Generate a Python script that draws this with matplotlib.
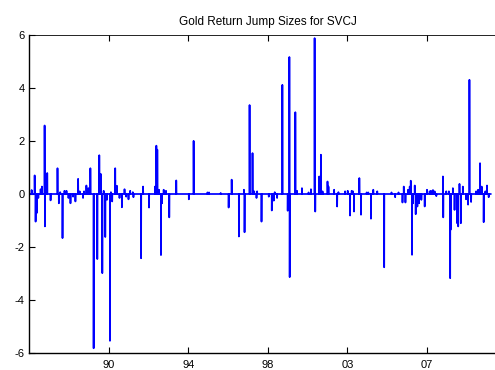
import numpy as np
import matplotlib
matplotlib.use("Agg")
import matplotlib.pyplot as plt

# Daily jump sizes: observation index -> jump size (all other days have no jump)
jump_day = [
    33, 71, 83, 96, 117, 146, 162, 196, 200, 229, 271, 358, 375, 392, 421,
    446, 471, 496, 521, 554, 583, 617, 637, 679, 692, 721, 746, 771, 812,
    858, 883, 900, 921, 938, 958, 979, 1017, 1029,
    1045, 1083, 1104, 1137, 1167, 1200, 1221, 1250, 1271, 1304, 1312, 1408,
    1433, 1508, 1583, 1600, 1612, 1633, 1658, 1671, 1692, 1721, 1762, 1850,
    2008, 2068,
    2242, 2262, 2408, 2508, 2546, 2637, 2700, 2708, 2771, 2808, 2829, 2858,
    2866, 2921, 3012, 3050,
    3075, 3087, 3117, 3183, 3250, 3271, 3275, 3346, 3367, 3429, 3512, 3542,
    3588, 3596, 3646, 3667, 3688, 3750, 3762, 3833, 3871, 3887, 3971, 4004,
    4033, 4054,
    4071, 4083, 4150, 4171, 4242, 4262, 4296, 4325, 4375, 4462, 4554, 4600,
    4642, 4692, 4708, 4729, 4762, 4783, 4796, 4812, 4825, 4846, 4858, 4879,
    4900, 4929, 4971, 5000, 5033,
    5050, 5075, 5096, 5117, 5200, 5204, 5242, 5275, 5291, 5296, 5325, 5346,
    5379, 5392, 5408, 5425, 5450, 5491, 5516, 5533, 5554, 5617, 5642, 5666,
    5687, 5712, 5733, 5754, 5775,
]
jump_size = [
    0.15, 0.70, -1.04, -0.72, -0.15, 0.18, 0.28, 2.58, -1.22, 0.79, -0.24,
    0.97, -0.35, 0.07, -1.66, 0.12, 0.12, -0.15, -0.35, -0.10, -0.28, 0.57,
    0.10, -0.15, 0.10, 0.32, 0.22, 0.97, -5.81, -2.45, 1.46, 0.76, -2.98,
    0.12, -1.62, -0.22, -5.53, 0.07,
    -0.28, 0.97, 0.31, -0.15, -0.50, 0.18, -0.10, -0.20, 0.12, 0.07, -0.12,
    -2.42, 0.28, -0.51, 0.28, 1.82, 1.67, 0.16, -2.30, -0.35, 0.16, 0.12,
    -0.88, 0.51, -0.20, 2.00,
    0.06, 0.06, 0.04, -0.51, 0.54, -1.60, 0.16, -1.44, 3.35, 1.54, 0.10,
    -0.15, 0.10, -1.04, -0.10, -0.62,
    -0.25, 0.07, -0.15, 4.11, -0.63, 5.16, -3.13, 3.08, 0.12, 0.22, 0.06,
    0.18, 5.87, -0.66, 0.66, 1.48, 0.10, 0.47, 0.28, 0.16, -0.47, 0.07,
    0.10, 0.12, -0.81, 0.12,
    0.10, -0.66, 0.60, -0.78, 0.06, 0.06, -0.93, 0.16, 0.10, -2.76, 0.06,
    -0.12, 0.06, -0.32, 0.28, -0.32, 0.16, 0.28, 0.50, -2.29, -0.35, 0.32,
    -0.76, -0.47, -0.35, -0.22, -0.47, 0.16, 0.10,
    0.12, 0.15, 0.10, -0.08, 0.66, -0.88, 0.10, 0.10, -3.17, -1.35, 0.22,
    -0.60, -1.10, -1.22, 0.38, -1.10, 0.28, -0.20, -0.40, 4.30, -0.30, 0.10,
    0.16, 1.16, 0.28, -1.06, 0.10, 0.32, -0.12,
]
n_obs = 5800

tick_pos = [1000, 2000, 3000, 4000, 5000]
tick_labels = ["90", "94", "98", "03", "07"]
y_ticks = [-6, -4, -2, 0, 2, 4, 6]

series = np.zeros(n_obs)
series[np.array(jump_day) - 1] = jump_size
days = np.arange(1, n_obs + 1)

plt.rcParams["font.family"] = ["Liberation Sans", "DejaVu Sans"]

fig = plt.figure(figsize=(4.95, 3.70), dpi=100)
# axes box runs past the right edge of the canvas
ax = fig.add_axes([29 / 495, (370 - 353.3) / 370, 477.6 / 495, 318.6 / 370])
ax.plot(days, series, color=(0, 0, 1), linewidth=1.25, antialiased=True)

ax.set_xlim(0, 6000)
ax.set_ylim(-6, 6)
ax.set_xticks(tick_pos)
ax.set_xticklabels(tick_labels)
ax.set_yticks(y_ticks)
ax.set_yticklabels([str(v) for v in y_ticks])
ax.tick_params(direction="in", length=4, width=0.8, labelsize=8,
               top=True, right=False)
ax.tick_params(axis="x", pad=4.6)
ax.tick_params(axis="y", pad=3)
for side in ("left", "bottom"):
    ax.spines[side].set_linewidth(1.0)
ax.spines["top"].set_linewidth(0.6)
ax.spines["right"].set_visible(False)

ax.set_title("Gold Return Jump Sizes for SVCJ", fontsize=8.5, pad=7)

fig.savefig("out.png", dpi=100)
